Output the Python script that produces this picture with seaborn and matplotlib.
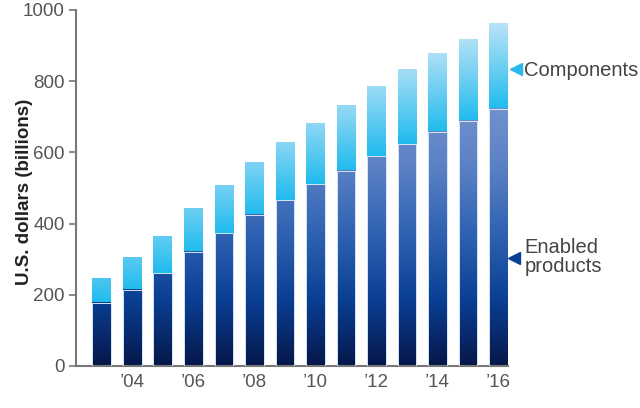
import matplotlib

matplotlib.use("Agg")  # no display

import matplotlib.pyplot as plt
import numpy as np
import pandas as pd
import seaborn as sns
from matplotlib.colors import LinearSegmentedColormap

years = [2003, 2004, 2005, 2006, 2007, 2008, 2009, 2010, 2011, 2012, 2013, 2014, 2015, 2016]
enabled_products = [178, 214, 260, 321, 373, 425, 466, 511, 549, 589, 623, 658, 689, 722]
total = [246, 304, 363, 442, 507, 572, 628, 682, 732, 783, 831, 879, 918, 963]
tick_labels = ["", "\u201904", "", "\u201906", "", "\u201908", "", "\u201910", "", "\u201912", "", "\u201914", "", "\u201916"]

df = pd.DataFrame({"year": years, "enabled": enabled_products, "total": total})

sns.set_style("white")
plt.rcParams["font.family"] = ["Liberation Sans", "DejaVu Sans"]

GREY = "#555555"
enabled_cmap = LinearSegmentedColormap.from_list(
    "enabled", ["#06174a", "#0b3f94", "#2f62b2", "#5a80c4", "#7393cf"]
)
comp_cmap = LinearSegmentedColormap.from_list("comp", ["#1fbbee", "#6fcff2", "#b9e3f7"])

fig = plt.figure(figsize=(6.4, 4.08), dpi=100)
ax = fig.add_axes([76 / 640, 42 / 408, 432 / 640, 356 / 408])

# totals first, enabled products drawn over them
sns.barplot(data=df, x="year", y="total", color="#1fbbee", width=0.62, ax=ax)
n_total = len(ax.patches)
sns.barplot(data=df, x="year", y="enabled", color="#0b3f94", width=0.62, ax=ax)

grad = np.linspace(0, 1, 256).reshape(-1, 1)
top_h = max(t - e for t, e in zip(total, enabled_products))
for i, p in enumerate(ax.patches):
    x0, w = p.get_x(), p.get_width()
    if i < n_total:
        e, t = enabled_products[i], total[i]
        frac = (t - e) / top_h
        ax.imshow(grad * frac, cmap=comp_cmap, vmin=0, vmax=1, origin="lower", aspect="auto",
                  extent=(x0, x0 + w, e, t), zorder=1, clip_path=p, clip_on=True)
        p.set_facecolor("none")
        p.set_edgecolor("none")
    else:
        e = enabled_products[i - n_total]
        ax.imshow(grad * e / 740, cmap=enabled_cmap, vmin=0, vmax=1, origin="lower", aspect="auto",
                  extent=(x0, x0 + w, 0, e), zorder=2, clip_path=p, clip_on=True)
        p.set_facecolor("none")
        p.set_edgecolor("#d6e6f6")
        p.set_linewidth(0.7)
        p.set_zorder(4)

ax.set_xlim(-0.85, 13.31)
ax.set_ylim(0, 1000)
ax.set_yticks(range(0, 1001, 200))
ax.set_xticks(range(len(years)))
ax.set_xticklabels(tick_labels)
ax.tick_params(axis="y", length=5, width=1.2, color="#777777", labelsize=13.5,
               labelcolor=GREY, pad=3, left=True)
ax.tick_params(axis="x", length=0, labelsize=13.5, labelcolor=GREY, pad=6)
ax.set_xlabel("")
ax.set_ylabel("U.S. dollars (billions)", fontsize=13.5, fontweight="bold", color="#222222")
ax.yaxis.set_label_coords(-0.1, 0.49)

sns.despine(ax=ax, top=True, right=True)
for side in ["left", "bottom"]:
    ax.spines[side].set_color("#777777")
    ax.spines[side].set_linewidth(1.5)

# series labels at the right of the last bar
ax.plot([13.57], [833], marker="<", markersize=8, color="#29b8ec", clip_on=False)
ax.text(13.85, 830, "Components", fontsize=14.5, color="#444444", va="center", ha="left", clip_on=False)
ax.plot([13.5], [303], marker="<", markersize=8, color="#0b3f94", clip_on=False)
ax.text(13.85, 306, "Enabled\nproducts", fontsize=14.5, color="#444444", va="center", ha="left",
        linespacing=1.05, clip_on=False)

fig.savefig("out.png", dpi=100)
